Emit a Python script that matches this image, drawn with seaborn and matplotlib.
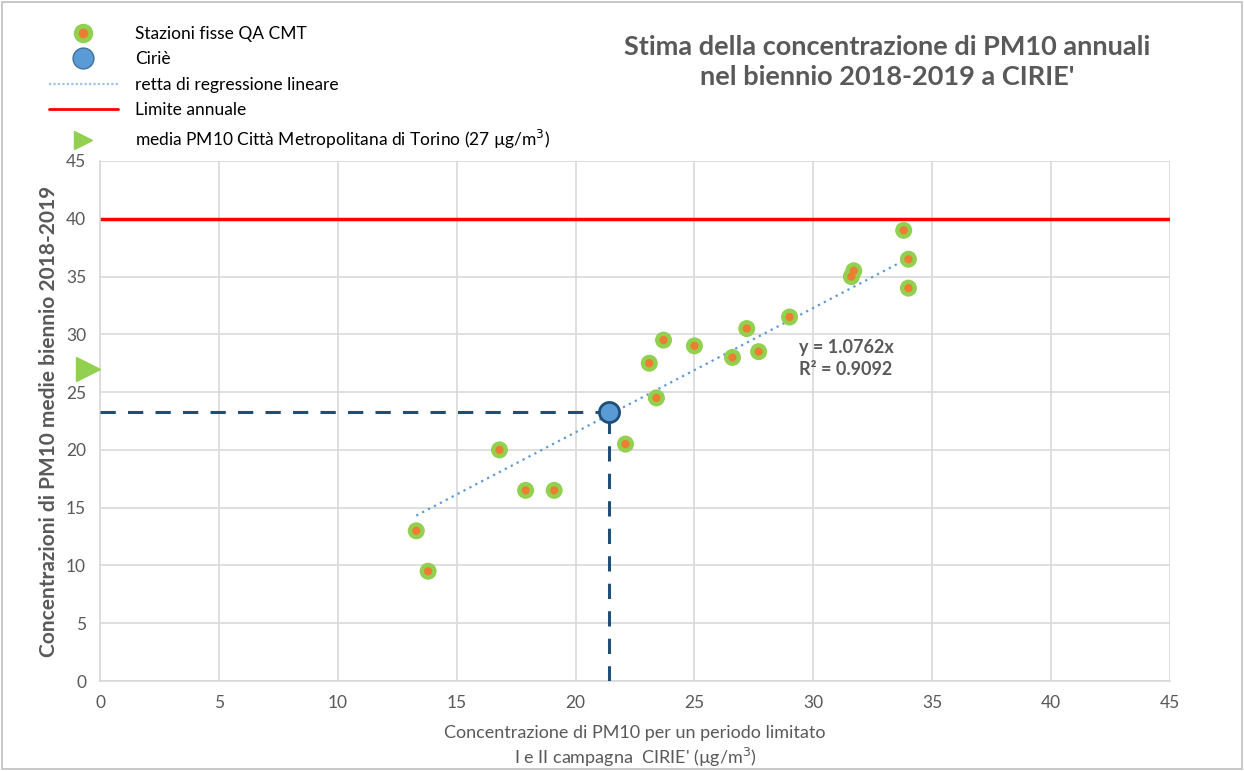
import matplotlib
matplotlib.use("Agg")
import matplotlib.pyplot as plt
import seaborn as sns
import numpy as np
import pandas as pd
from matplotlib.lines import Line2D

# ---- data ----
stations_x = [13.3, 13.8, 16.8, 17.9, 19.1, 22.1, 23.1, 23.4, 23.7, 25.0, 26.6, 27.2, 27.7, 29.0, 31.6, 31.7, 33.8, 34.0, 34.0]
stations_y = [13.0, 9.5, 20.0, 16.5, 16.5, 20.5, 27.5, 24.5, 29.5, 29.0, 28.0, 30.5, 28.5, 31.5, 35.0, 35.5, 39.0, 36.5, 34.0]
cirie_x = [21.4]
cirie_y = [23.3]
slope = 1.0762
r2 = 0.9092
limit_value = 40
metro_mean = 27
x_ticks = [0, 5, 10, 15, 20, 25, 30, 35, 40, 45]
y_ticks = [0, 5, 10, 15, 20, 25, 30, 35, 40, 45]

sns.set_theme(style="white")
plt.rcParams['font.family'] = ['Lato', 'DejaVu Sans']

GRAY = "#595959"
GREEN = "#92D050"
ORANGE = "#ED7D31"
BLUE = "#5B9BD5"
NAVY = "#1F4E79"

fig = plt.figure(figsize=(12.44, 7.71), dpi=100)
ax = fig.add_axes([100/1244, 1-681/771, 1070/1244, 520/771])

df = pd.DataFrame({"x": stations_x, "y": stations_y})
reg_x = np.array([min(stations_x), max(stations_x)])
reg = pd.DataFrame({"x": reg_x, "y": slope * reg_x})

# limit line
ax.axhline(limit_value, color="#FF0000", lw=2.5, zorder=2)
# regression line
sns.lineplot(data=reg, x="x", y="y", ax=ax, color=BLUE, lw=1.6, linestyle=(0, (1, 2)), zorder=3)
# dashed projections
ax.plot([0, cirie_x[0]], [cirie_y[0], cirie_y[0]], color=NAVY, lw=2.2, ls=(0, (5, 4)), zorder=3)
ax.plot([cirie_x[0], cirie_x[0]], [0, cirie_y[0]], color=NAVY, lw=2.2, ls=(0, (5, 4)), zorder=3)
# stations
sns.scatterplot(data=df, x="x", y="y", ax=ax, s=150, color=GREEN, edgecolor="none", zorder=4)
sns.scatterplot(data=df, x="x", y="y", ax=ax, s=35, color=ORANGE, edgecolor="none", zorder=5)
# Cirie
sns.scatterplot(x=cirie_x, y=cirie_y, ax=ax, s=210, color=BLUE, edgecolor=NAVY, linewidth=2, zorder=6)
# metro mean marker outside axis
ax.plot([-0.5], [metro_mean], marker=">", color=GREEN, markersize=17, clip_on=False, zorder=7, ls="none")

ax.set_xlim(0, 45)
ax.set_ylim(0, 45)
ax.set_xticks(x_ticks)
ax.set_yticks(y_ticks)
ax.grid(True, color="#D9D9D9", lw=1.2)
ax.set_axisbelow(True)
for s in ["top", "right"]:
    ax.spines[s].set_visible(False)
for s in ["left", "bottom"]:
    ax.spines[s].set_color("#D9D9D9")
    ax.spines[s].set_linewidth(1.2)
ax.tick_params(axis="both", colors=GRAY, labelsize=12.5, length=0, pad=10)
ax.tick_params(axis="x", pad=10)

ax.set_xlabel("Concentrazione di PM10 per un periodo limitato\nI e II campagna  CIRIE' (µg/m$^3$)",
              fontsize=13, color=GRAY, labelpad=10, linespacing=1.3)
ax.set_ylabel("Concentrazioni di PM10 medie biennio 2018-2019", fontsize=15, color=GRAY,
              fontweight="bold", labelpad=5)

ax.text(29.4, 27.9, f"y = {slope}x\nR² = {r2}", fontsize=13, color=GRAY, fontweight="bold",
        va="center", ha="left", linespacing=1.35)

fig.text(0.713, 0.92, "Stima della concentrazione di PM10 annuali\nnel biennio 2018-2019 a CIRIE'",
         ha="center", va="center", fontsize=19.5, fontweight="bold", color=GRAY, linespacing=1.3)

# legend
h_station = (Line2D([], [], ls="none", marker="o", markersize=13, color=GREEN),
             Line2D([], [], ls="none", marker="o", markersize=6, color=ORANGE))
h_cirie = Line2D([], [], ls="none", marker="o", markersize=15, markerfacecolor=BLUE,
                 markeredgecolor="#41719C", markeredgewidth=1)
h_reg = Line2D([], [], color="#9DC3E6", lw=1.6, ls=(0, (1, 1)))
h_lim = Line2D([], [], color="#FF0000", lw=2)
h_tri = Line2D([], [], ls="none", marker=">", markersize=13, color=GREEN)
labels = ["Stazioni fisse QA CMT", "Ciriè", "retta di regressione lineare", "Limite annuale",
          "media PM10 Città Metropolitana di Torino (27 µg/m$^3$)"]
fig.legend([h_station, h_cirie, h_reg, h_lim, h_tri], labels, loc="upper left",
           bbox_to_anchor=(40/1244, 1-17/771), frameon=False, fontsize=12.5,
           handlelength=4.0, handletextpad=1.0, labelspacing=0.55, borderpad=0,
           labelcolor="#000000")

# figure border
fig.patches.append(plt.Rectangle((0.002, 0.002), 0.996, 0.996, transform=fig.transFigure,
                                 fill=False, edgecolor="#BFBFBF", lw=1.2))

fig.savefig("out.png", dpi=100)
